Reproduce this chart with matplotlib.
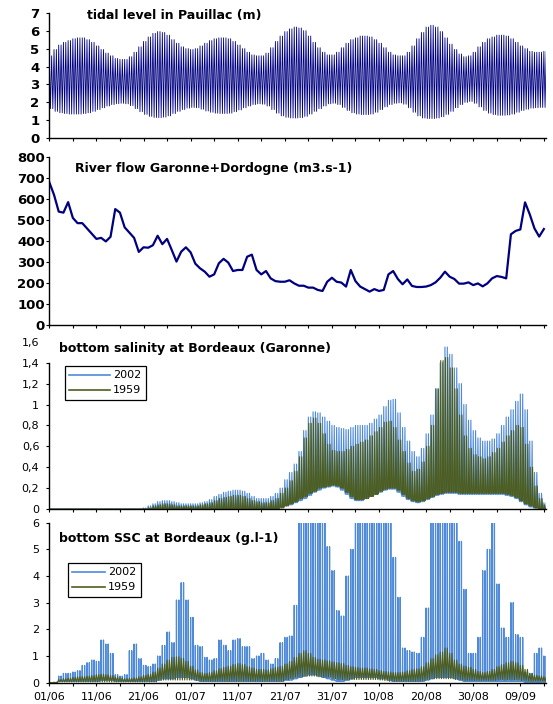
import numpy as np
import matplotlib
matplotlib.use("Agg")
import matplotlib.pyplot as plt
from matplotlib.legend_handler import HandlerLine2D

# ---------------- data (one value per day from 01/06) ----------------
tide_high = [4.6, 4.95, 5.2, 5.35, 5.45, 5.55, 5.6, 5.6, 5.5, 5.35,
             5.15, 4.95, 4.75, 4.6, 4.45, 4.4, 4.4, 4.55, 4.8, 5.1,
             5.4, 5.65, 5.85, 5.95, 5.9, 5.75, 5.5, 5.3, 5.1, 5.0,
             4.95, 5.0, 5.15, 5.3, 5.45, 5.55, 5.6, 5.6, 5.55, 5.4,
             5.2, 5.0, 4.8, 4.65, 4.6, 4.6, 4.75, 5.05, 5.4, 5.7,
             5.95, 6.1, 6.2, 6.15, 6.0, 5.7, 5.35, 5.05, 4.8, 4.65,
             4.65, 4.8, 5.05, 5.3, 5.5, 5.6, 5.7, 5.7, 5.65, 5.5,
             5.3, 5.05, 4.8, 4.65, 4.6, 4.6, 4.8, 5.15, 5.55, 5.9,
             6.2, 6.3, 6.2, 5.95, 5.6, 5.25, 4.95, 4.7, 4.55, 4.6,
             4.8, 5.1, 5.35, 5.55, 5.65, 5.75, 5.75, 5.7, 5.55, 5.35,
             5.15, 5.0, 4.85, 4.8, 4.8, 4.85]
tide_low = [1.65, 1.5, 1.42, 1.38, 1.35, 1.35, 1.35, 1.38, 1.42, 1.5,
            1.6, 1.7, 1.8, 1.88, 1.93, 1.95, 1.92, 1.82, 1.65, 1.48,
            1.33, 1.22, 1.16, 1.15, 1.18, 1.25, 1.38, 1.5, 1.6, 1.68,
            1.72, 1.7, 1.62, 1.52, 1.45, 1.4, 1.38, 1.38, 1.4, 1.48,
            1.58, 1.7, 1.8, 1.88, 1.92, 1.9, 1.8, 1.6, 1.4, 1.25,
            1.17, 1.13, 1.13, 1.15, 1.22, 1.35, 1.5, 1.65, 1.8, 1.92,
            1.95, 1.88, 1.72, 1.55, 1.42, 1.35, 1.32, 1.32, 1.35, 1.45,
            1.6, 1.75, 1.88, 1.95, 1.97, 1.9, 1.7, 1.45, 1.25, 1.13,
            1.1, 1.1, 1.13, 1.2, 1.33, 1.5, 1.7, 1.88, 2.0, 2.05,
            1.95, 1.75, 1.55, 1.4, 1.32, 1.28, 1.28, 1.3, 1.35, 1.45,
            1.55, 1.62, 1.68, 1.7, 1.72, 1.72]

river_flow = [680, 620, 540, 535, 585, 510, 485, 485, 460, 435,
              410, 415, 398, 420, 552, 535, 465, 440, 415, 348,
              370, 368, 380, 425, 385, 410, 357, 302, 349, 370,
              346, 292, 270, 254, 230, 241, 294, 315, 297, 257,
              262, 262, 325, 335, 262, 241, 257, 222, 209, 206,
              206, 213, 198, 187, 187, 178, 178, 167, 162, 206,
              225, 206, 202, 183, 262, 209, 183, 171, 159, 171,
              162, 167, 241, 257, 219, 194, 217, 186, 181, 181,
              183, 190, 203, 225, 254, 230, 219, 197, 197, 203,
              190, 198, 184, 198, 222, 233, 229, 222, 432, 448,
              455, 584, 527, 460, 421, 457]

sal2002_high = [0] * 20 + [
    0.01, 0.03, 0.05, 0.07, 0.08, 0.08, 0.07, 0.06, 0.05, 0.05,
    0.05, 0.05, 0.06, 0.07, 0.09, 0.12, 0.14, 0.16, 0.17, 0.18,
    0.18, 0.17, 0.15, 0.12, 0.1, 0.1, 0.1, 0.12, 0.15, 0.2,
    0.28, 0.35, 0.43, 0.55, 0.75, 0.88, 0.93, 0.92, 0.88, 0.84,
    0.8, 0.78, 0.77, 0.76, 0.78, 0.8, 0.8, 0.8, 0.82, 0.86,
    0.9, 0.98, 1.04, 1.05, 0.92, 0.78, 0.65, 0.55, 0.5, 0.58,
    0.72, 0.9, 1.15, 1.4, 1.55, 1.48, 1.35, 1.2, 1.0, 0.85,
    0.75, 0.68, 0.65, 0.65, 0.67, 0.72, 0.8, 0.88, 0.95, 1.03,
    1.1, 0.95, 0.65, 0.35, 0.15, 0.06]
sal2002_low = [0] * 48 + [
    0.01, 0.02,
    0.03, 0.04, 0.06, 0.08, 0.1, 0.13, 0.16, 0.18, 0.2, 0.21,
    0.22, 0.21, 0.18, 0.14, 0.1, 0.08, 0.08, 0.1, 0.12, 0.14,
    0.16, 0.18, 0.19, 0.19, 0.16, 0.12, 0.09, 0.07, 0.06, 0.07,
    0.09, 0.11, 0.13, 0.14, 0.15, 0.15, 0.15, 0.14, 0.14, 0.14,
    0.14, 0.14, 0.14, 0.14, 0.14, 0.14, 0.14, 0.13, 0.12, 0.1,
    0.07, 0.04, 0.02, 0.01, 0, 0]
sal1959_high = [0] * 21 + [
    0.01, 0.03, 0.04, 0.05, 0.05, 0.04, 0.03, 0.03, 0.03,
    0.03, 0.03, 0.04, 0.05, 0.06, 0.08, 0.1, 0.11, 0.12, 0.13,
    0.13, 0.12, 0.1, 0.08, 0.07, 0.06, 0.06, 0.08, 0.1, 0.15,
    0.2, 0.27, 0.36, 0.5, 0.68, 0.82, 0.87, 0.82, 0.72, 0.62,
    0.56, 0.55, 0.55, 0.57, 0.6, 0.62, 0.64, 0.66, 0.7, 0.74,
    0.78, 0.83, 0.84, 0.78, 0.66, 0.55, 0.44, 0.36, 0.38, 0.45,
    0.6, 0.8, 1.15, 1.42, 1.45, 1.35, 1.15, 0.9, 0.7, 0.58,
    0.52, 0.5, 0.48, 0.5, 0.54, 0.58, 0.64, 0.7, 0.75, 0.8,
    0.78, 0.62, 0.4, 0.22, 0.1, 0.04]
sal1959_low = [0] * 49 + [
    0.01,
    0.03, 0.05, 0.07, 0.1, 0.12, 0.15, 0.17, 0.2, 0.21, 0.22,
    0.23, 0.22, 0.2, 0.16, 0.12, 0.09, 0.09, 0.1, 0.12, 0.14,
    0.17, 0.19, 0.2, 0.2, 0.18, 0.14, 0.1, 0.08, 0.07, 0.08,
    0.1, 0.12, 0.14, 0.15, 0.16, 0.16, 0.16, 0.15, 0.15, 0.15,
    0.15, 0.15, 0.15, 0.15, 0.15, 0.15, 0.15, 0.14, 0.13, 0.11,
    0.08, 0.05, 0.03, 0.01, 0, 0]

ssc2002_high = [0, 0, 0.25, 0.35, 0.35, 0.4, 0.45, 0.65, 0.75, 0.85,
                0.8, 1.6, 1.45, 1.1, 0.3, 0.25, 0.3, 1.2, 1.45, 0.9,
                0.65, 0.6, 0.7, 1.0, 1.4, 1.9, 1.5, 3.1, 3.75, 3.1,
                2.45, 1.4, 1.35, 0.95, 0.85, 0.9, 1.6, 1.4, 1.2, 1.6,
                1.65, 1.35, 1.35, 0.9, 1.0, 1.1, 0.85, 0.7, 0.9, 1.5,
                1.7, 1.75, 2.9, 7, 7, 7, 7, 7, 7, 5.1,
                4.2, 2.7, 2.5, 4.0, 5.0, 7, 7, 7, 7, 7,
                7, 7, 7, 4.7, 3.2, 1.3, 1.2, 1.15, 1.1, 1.7,
                2.8, 7, 7, 7, 7, 7, 7, 5.3, 3.5, 1.1,
                1.1, 1.7, 4.2, 5.0, 7, 3.7, 2.05, 1.7, 3.0, 1.8,
                1.7, 0.4, 0.35, 1.1, 1.3, 1.0]
ssc2002_low = [0, 0, 0.05, 0.05, 0.05, 0.05, 0.05, 0.05, 0.05, 0.05,
               0.05, 0.1, 0.1, 0.1, 0.05, 0.05, 0.05, 0.05, 0.05, 0.05,
               0.05, 0.05, 0.05, 0.1, 0.15, 0.15, 0.15, 0.2, 0.2, 0.2,
               0.15, 0.1, 0.05, 0.05, 0.05, 0.05, 0.05, 0.05, 0.05, 0.05,
               0.05, 0.05, 0.05, 0.05, 0.05, 0.05, 0.05, 0.05, 0.05, 0.05,
               0.1, 0.1, 0.15, 0.2, 0.25, 0.3, 0.3, 0.25, 0.2, 0.15,
               0.1, 0.05, 0.05, 0.1, 0.15, 0.2, 0.2, 0.2, 0.2, 0.2,
               0.15, 0.15, 0.1, 0.05, 0.05, 0.05, 0.05, 0.05, 0.05, 0.05,
               0.1, 0.15, 0.2, 0.2, 0.2, 0.2, 0.15, 0.1, 0.05, 0.05,
               0.05, 0.05, 0.05, 0.05, 0.05, 0.05, 0.05, 0.05, 0.05, 0.05,
               0.05, 0.02, 0.02, 0.02, 0.02, 0.02]
ssc1959_high = [0, 0.02, 0.12, 0.15, 0.17, 0.2, 0.22, 0.23, 0.25, 0.27,
                0.3, 0.32, 0.3, 0.27, 0.22, 0.18, 0.15, 0.16, 0.18, 0.22,
                0.28, 0.32, 0.4, 0.55, 0.7, 0.85, 0.95, 0.97, 0.92, 0.8,
                0.62, 0.48, 0.38, 0.35, 0.38, 0.45, 0.52, 0.58, 0.62, 0.68,
                0.72, 0.68, 0.6, 0.55, 0.5, 0.5, 0.48, 0.52, 0.58, 0.62,
                0.7, 0.8, 0.95, 1.1, 1.2, 1.1, 0.95, 0.88, 0.85, 0.82,
                0.78, 0.75, 0.72, 0.65, 0.6, 0.58, 0.55, 0.55, 0.52, 0.5,
                0.45, 0.42, 0.4, 0.38, 0.38, 0.4, 0.45, 0.5, 0.52, 0.6,
                0.75, 0.9, 1.05, 1.15, 1.3, 1.1, 0.85, 0.7, 0.62, 0.58,
                0.5, 0.42, 0.38, 0.42, 0.5, 0.6, 0.68, 0.75, 0.8, 0.75,
                0.65, 0.5, 0.35, 0.28, 0.25, 0.22]
ssc1959_low = [0, 0, 0.03, 0.03, 0.03, 0.03, 0.03, 0.03, 0.03, 0.03,
               0.03, 0.03, 0.03, 0.03, 0.03, 0.03, 0.03, 0.03, 0.03, 0.03,
               0.03, 0.03, 0.03, 0.08, 0.1, 0.1, 0.1, 0.1, 0.1, 0.1,
               0.1, 0.08, 0.05, 0.05, 0.05, 0.05, 0.05, 0.05, 0.05, 0.05,
               0.05, 0.05, 0.05, 0.05, 0.05, 0.05, 0.05, 0.05, 0.05, 0.05,
               0.1, 0.15, 0.2, 0.22, 0.25, 0.25, 0.25, 0.22, 0.2, 0.2,
               0.15, 0.1, 0.1, 0.1, 0.12, 0.12, 0.12, 0.12, 0.12, 0.12,
               0.1, 0.08, 0.05, 0.05, 0.05, 0.05, 0.05, 0.05, 0.05, 0.08,
               0.12, 0.15, 0.15, 0.15, 0.15, 0.15, 0.12, 0.1, 0.08, 0.08,
               0.08, 0.08, 0.08, 0.08, 0.08, 0.1, 0.1, 0.1, 0.1, 0.1,
               0.08, 0.05, 0.05, 0.05, 0.05, 0.05]

date_ticks = [0, 10, 20, 30, 40, 50, 60, 70, 80, 90, 100]
date_labels = ["01/06", "11/06", "21/06", "01/07", "11/07", "21/07",
               "31/07", "10/08", "20/08", "30/08", "09/09"]
sal_ticks = [0, 0.2, 0.4, 0.6, 0.8, 1.0, 1.2, 1.4, 1.6]
sal_labels = ["0", "0,2", "0,4", "0,6", "0,8", "1", "1,2", "1,4", "1,6"]
series_names = ["2002", "1959"]
titles = ["tidal level in Pauillac (m)",
          "River flow Garonne+Dordogne (m3.s-1)",
          "bottom salinity at Bordeaux (Garonne)",
          "bottom SSC at Bordeaux (g.l-1)"]

# ---------------- helpers: two tides per day ----------------
def tidal_path(hi, lo):
    hi = np.asarray(hi, float); lo = np.asarray(lo, float)
    d = np.arange(len(hi), dtype=float)
    t = (d[:, None] + np.array([0.0, 0.25, 0.5, 0.75])).ravel()
    v = np.column_stack([hi, lo, hi, lo]).ravel()
    return t, v

def spike_path(hi, lo, offset=0.0, w=0.05):
    hi = np.asarray(hi, float); lo = np.asarray(lo, float)
    d = np.arange(len(hi), dtype=float)
    base = d[:, None] + offset + np.array([0.0, 0.5])
    t = np.stack([base - w, base, base + w], axis=-1).ravel()
    h2 = np.repeat(hi[:, None], 2, axis=1)
    l2 = np.repeat(lo[:, None], 2, axis=1)
    v = np.stack([l2, h2, l2], axis=-1).ravel()
    return t, v

class ShiftedLine(HandlerLine2D):
    def __init__(self, start_frac=0.3, **kw):
        super().__init__(**kw)
        self.start_frac = start_frac
    def create_artists(self, *args, **kwargs):
        arts = super().create_artists(*args, **kwargs)
        for a in arts:
            xd = np.asarray(a.get_xdata(), float)
            if len(xd) == 2:
                a.set_xdata([xd[0] + self.start_frac * (xd[1] - xd[0]), xd[1]])
        return arts

# ---------------- figure ----------------
W, H = 553, 704
plt.rcParams["font.family"] = ["DejaVu Sans"]
fig = plt.figure(figsize=(W / 100, H / 100), dpi=100)

def px_axes(left, right, top, bottom):
    return fig.add_axes([left / W, 1 - bottom / H, (right - left) / W, (bottom - top) / H])

X0, X1 = 49.3, 546
ax1 = px_axes(X0, X1, 12.7, 138.3)
ax2 = px_axes(X0, X1, 157, 325)
ax3 = px_axes(X0, X1, 341.8, 509)
ax4 = px_axes(X0, X1, 522.7, 682.7)

NAVY = "#000080"
BLUE = "#4F8AD9"
OLIVE = "#4D5D1E"
XMAX = 105.45

for ax in (ax1, ax2, ax3, ax4):
    ax.set_xlim(0, XMAX)
    ax.spines["top"].set_visible(False)
    ax.spines["right"].set_visible(False)
    for s in ("left", "bottom"):
        ax.spines[s].set_linewidth(1.0)
    ax.set_xticks(np.arange(0, 106, 5))
    ax.tick_params(axis="both", direction="out", length=2.4, width=0.8, colors="black")
    ax.set_facecolor("none")

# panel 1 : tidal level
t, v = tidal_path(tide_high, tide_low)
ax1.plot(t, v, color=NAVY, lw=0.6)
ax1.set_ylim(0, 7)
ax1.set_yticks(range(0, 8))
ax1.tick_params(axis="y", labelsize=9.5, pad=4.8)
ax1.set_xticklabels([])

# panel 2 : river flow
ax2.plot(np.arange(len(river_flow)), river_flow, color=NAVY, lw=1.6)
ax2.set_ylim(0, 800)
ax2.set_yticks(range(0, 801, 100))
ax2.tick_params(axis="y", labelsize=9.5, pad=0.8)
ax2.set_xticklabels([])
for a in (ax1, ax2):
    for lab in a.get_yticklabels():
        lab.set_fontweight("bold")

# panel 3 : salinity
t, v = spike_path(sal2002_high, sal2002_low, offset=0.0, w=0.13)
l02, = ax3.plot(t, v, color=BLUE, lw=0.8, label=series_names[0])
t, v = spike_path(sal1959_high, sal1959_low, offset=0.1, w=0.14)
l59, = ax3.plot(t, v, color=OLIVE, lw=0.8, label=series_names[1])
ax3.set_ylim(0, 1.6)
ax3.set_yticks(sal_ticks)
ax3.set_yticklabels(sal_labels)
ax3.tick_params(axis="y", labelsize=8, pad=4.8)
ax3.set_xticklabels([])
ax3.spines["left"].set_bounds(0, 1.4)
ax3.yaxis.get_major_ticks()[-1].tick1line.set_visible(False)

# panel 4 : SSC
t, v = spike_path(ssc2002_high, ssc2002_low, offset=0.0, w=0.05)
s02, = ax4.plot(t, v, color=BLUE, lw=0.9, label=series_names[0])
t, v = tidal_path(ssc1959_high, ssc1959_low)
s59, = ax4.plot(t, v, color=OLIVE, lw=0.8, label=series_names[1])
ax4.set_ylim(0, 6)
ax4.set_yticks(range(0, 7))
ax4.tick_params(axis="y", labelsize=8, pad=4.8)
ax4.set_xticks(date_ticks)
ax4.set_xticks(np.arange(0, 106, 5), minor=True)
ax4.set_xticklabels(date_labels)
ax4.tick_params(axis="x", which="both", direction="out", length=2.4, width=0.8)
ax4.tick_params(axis="x", which="major", labelsize=8, pad=4.0)

# titles
title_pos = [(87.3, 15.7), (75.0, 168.3), (58.7, 348.3), (59.0, 538.3)]
for txt, (x, y) in zip(titles, title_pos):
    fig.text(x / W, 1 - y / H, txt, fontsize=9, fontweight="bold",
             ha="left", va="center")

# legends
def add_legend(ax, handles, left, top, frac, hl):
    leg = ax.legend(handles=handles, loc="upper left",
                    bbox_to_anchor=(left / W, 1 - top / H),
                    bbox_transform=fig.transFigure, borderaxespad=0,
                    frameon=True, fancybox=False, framealpha=1,
                    edgecolor="black", fontsize=8, handlelength=hl,
                    handletextpad=0.25, labelspacing=0.45, borderpad=0.4,
                    handler_map={h: ShiftedLine(start_frac=frac) for h in handles})
    leg.get_frame().set_linewidth(0.9)
    for line in leg.get_lines():
        line.set_linewidth(1.2)
    return leg

add_legend(ax3, [l02, l59], 65, 366, 0.33, 3.66)
add_legend(ax4, [s02, s59], 68, 563, 0.18, 2.94)

fig.savefig("out.png", dpi=100)
